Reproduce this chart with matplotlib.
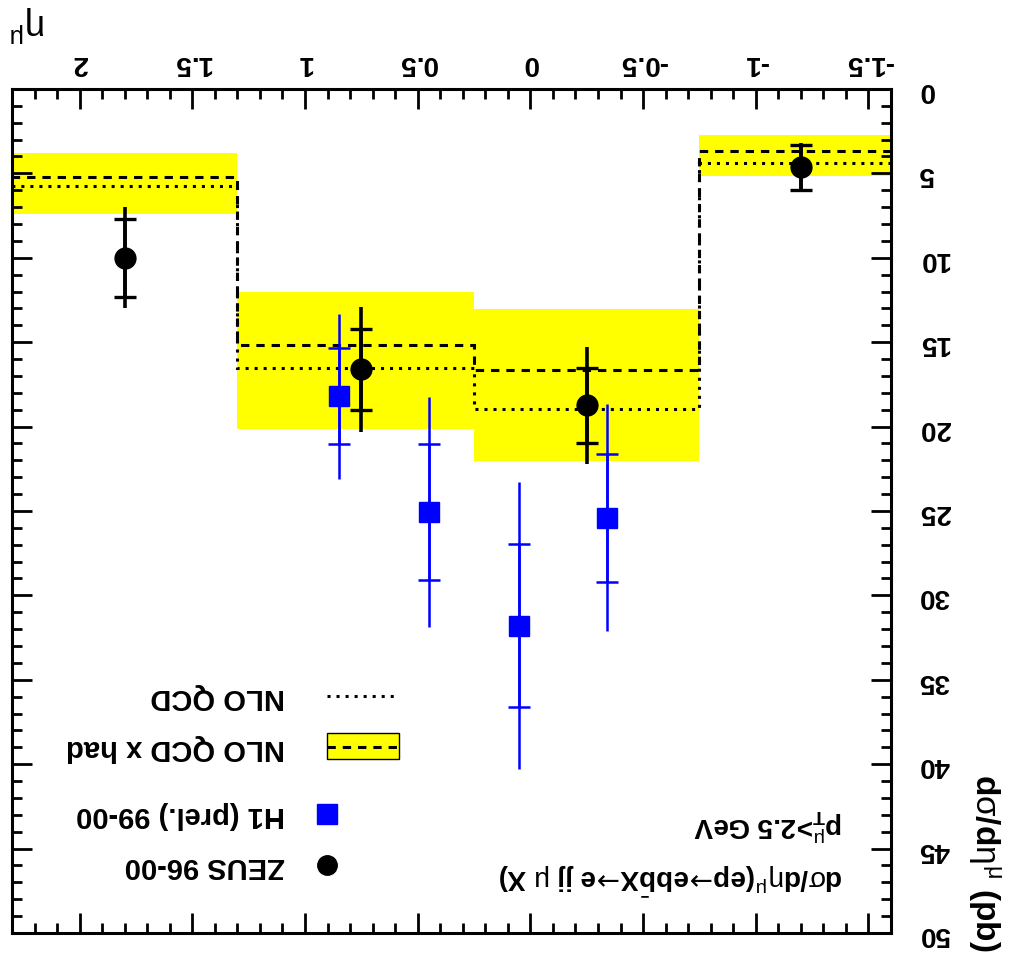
import matplotlib
matplotlib.use('Agg')
import matplotlib.pyplot as plt
from matplotlib.ticker import MultipleLocator
from matplotlib.patches import Rectangle

plt.rcParams['font.family'] = ['Liberation Sans', 'DejaVu Sans']
plt.rcParams['mathtext.fontset'] = 'custom'
plt.rcParams['mathtext.rm'] = 'Liberation Sans'
plt.rcParams['mathtext.it'] = 'Liberation Sans'
plt.rcParams['mathtext.bf'] = 'Liberation Sans:bold'
plt.rcParams['mathtext.sf'] = 'DejaVu Sans'
plt.rcParams['axes.unicode_minus'] = False
plt.rcParams['lines.scale_dashes'] = False

# ---- data ----
bin_edges = [-1.6, -0.75, 0.25, 1.3, 2.3]
nlo_had = [3.66, 16.65, 15.17, 5.20]      # NLO QCD x had (dashed)
nlo = [4.38, 18.96, 16.55, 5.73]          # NLO QCD (dotted)
band_lo = [2.73, 13.03, 12.04, 3.79]
band_hi = [5.14, 22.02, 20.14, 7.41]

zeus_eta = [1.80, 0.75, -0.25, -1.20]
zeus_xs = [10.0, 16.6, 18.75, 4.64]
zeus_stat = [2.3, 2.4, 2.2, 1.33]
zeus_tot = [3.0, 3.7, 3.45, 1.46]

h1_eta = [0.85, 0.45, 0.05, -0.34]
h1_xs = [18.2, 25.05, 31.8, 25.4]
h1_stat = [2.85, 4.03, 4.83, 3.8]
h1_tot = [4.88, 6.82, 8.5, 6.73]

x_ticks = [-1.5, -1, -0.5, 0, 0.5, 1, 1.5, 2]
y_ticks = [0, 5, 10, 15, 20, 25, 30, 35, 40, 45, 50]

dash_style = (0, (6, 5))
dot_style = (0, (2.2, 4.3))

fig = plt.figure(figsize=(10.10, 9.54), dpi=100)
ax = fig.add_axes([0.0119, 0.0210, 0.8703, 0.8847])

# theory band and curves
ax.stairs(band_hi, bin_edges, baseline=band_lo, fill=True, color='#ffff00', lw=0)
ax.stairs(nlo_had, bin_edges, baseline=None, color='black', lw=2.2, linestyle=dash_style)
ax.stairs(nlo, bin_edges, baseline=None, color='black', lw=2.2, linestyle=dot_style)

# H1 points
ax.errorbar(h1_eta, h1_xs, yerr=h1_tot, fmt='none', ecolor='#0000ff', elinewidth=1.8, capsize=0)
ax.errorbar(h1_eta, h1_xs, yerr=h1_stat, fmt='s', color='#0000ff', ms=15, ecolor='#0000ff',
            elinewidth=1.8, capsize=8, capthick=1.8)

# ZEUS points
ax.errorbar(zeus_eta, zeus_xs, yerr=zeus_tot, fmt='none', ecolor='black', elinewidth=2.6, capsize=0)
ax.errorbar(zeus_eta, zeus_xs, yerr=zeus_stat, fmt='o', color='black', ms=15, ecolor='black',
            elinewidth=2.6, capsize=8, capthick=2.4)

# whole picture is turned upside down
ax.set_xlim(2.3, -1.6)
ax.set_ylim(50, 0)

ax.set_xticks(x_ticks)
ax.set_xticklabels(['%g' % t for t in x_ticks])
ax.xaxis.set_minor_locator(MultipleLocator(0.1))
ax.set_yticks(y_ticks)
ax.set_yticklabels(['%g' % t for t in y_ticks])
ax.yaxis.set_minor_locator(MultipleLocator(1))

ax.tick_params(which='both', direction='in', top=True, bottom=True, left=True, right=True,
               labeltop=True, labelbottom=False, labelleft=False, labelright=True, width=2.0)
ax.tick_params(which='major', length=14.5)
ax.tick_params(which='minor', length=7)
ax.tick_params(axis='x', pad=10, labelsize=20, labelrotation=180)
ax.tick_params(axis='y', pad=20, labelsize=20, labelrotation=180)
for lbl in ax.get_xticklabels() + ax.get_yticklabels():
    lbl.set_fontweight('bold')
for lbl in ax.get_yticklabels():
    lbl.set_va('center')
for sp in ax.spines.values():
    sp.set_linewidth(2.2)

# labels
fig.text(0.975, 0.003, r'd$\sigma$/d$\eta^{\mu}$ (pb)', rotation=-90, ha='center', va='bottom',
         fontsize=24, fontweight='bold')
fig.text(0.028, 0.975, r'$\eta^{\mu}$', rotation=180, ha='center', va='center', fontsize=26)

arrow = r'$\!\mathsf{\rightarrow}\!$'
ax.text(0.945, 0.066, r'd$\sigma$/d$\eta^{\mu}$(ep' + arrow + r'eb$\bar{\mathbf{b}}$X' + arrow + r'e jj $\mu$ X)',
        transform=ax.transAxes, rotation=180, ha='right', va='center', fontsize=20, fontweight='bold')
ax.text(0.945, 0.129, r'p$_{\mathbf{T}}^{\mu}$>2.5 GeV', transform=ax.transAxes, rotation=180,
        ha='right', va='center', fontsize=20, fontweight='bold')

# legend drawn by hand (upside down)
lx0, lx1, tx = 0.3584, 0.4403, 0.3106
ax.plot([lx0], [0.0806], 'o', color='black', ms=14, transform=ax.transAxes, clip_on=False)
ax.plot([lx0], [0.141], 's', color='#0000ff', ms=14, transform=ax.transAxes, clip_on=False)
ax.add_patch(Rectangle((lx0, 0.2062), lx1 - lx0, 0.0308, transform=ax.transAxes,
                       facecolor='#ffff00', edgecolor='black', lw=1.0))
ax.plot([lx0, lx1], [0.2204, 0.2204], color='black', lw=2.2, linestyle=dash_style, transform=ax.transAxes)
ax.plot([lx0, lx1], [0.2808, 0.2808], color='black', lw=2.2, linestyle=dot_style, transform=ax.transAxes)
for yy, txt in zip([0.0806, 0.141, 0.2204, 0.2808],
                   ['ZEUS 96-00', 'H1 (prel.) 99-00', 'NLO QCD x had', 'NLO QCD']):
    ax.text(tx, yy, txt, transform=ax.transAxes, rotation=180, ha='right', va='center',
            fontsize=21, fontweight='bold')

fig.savefig('out.png', dpi=100)
